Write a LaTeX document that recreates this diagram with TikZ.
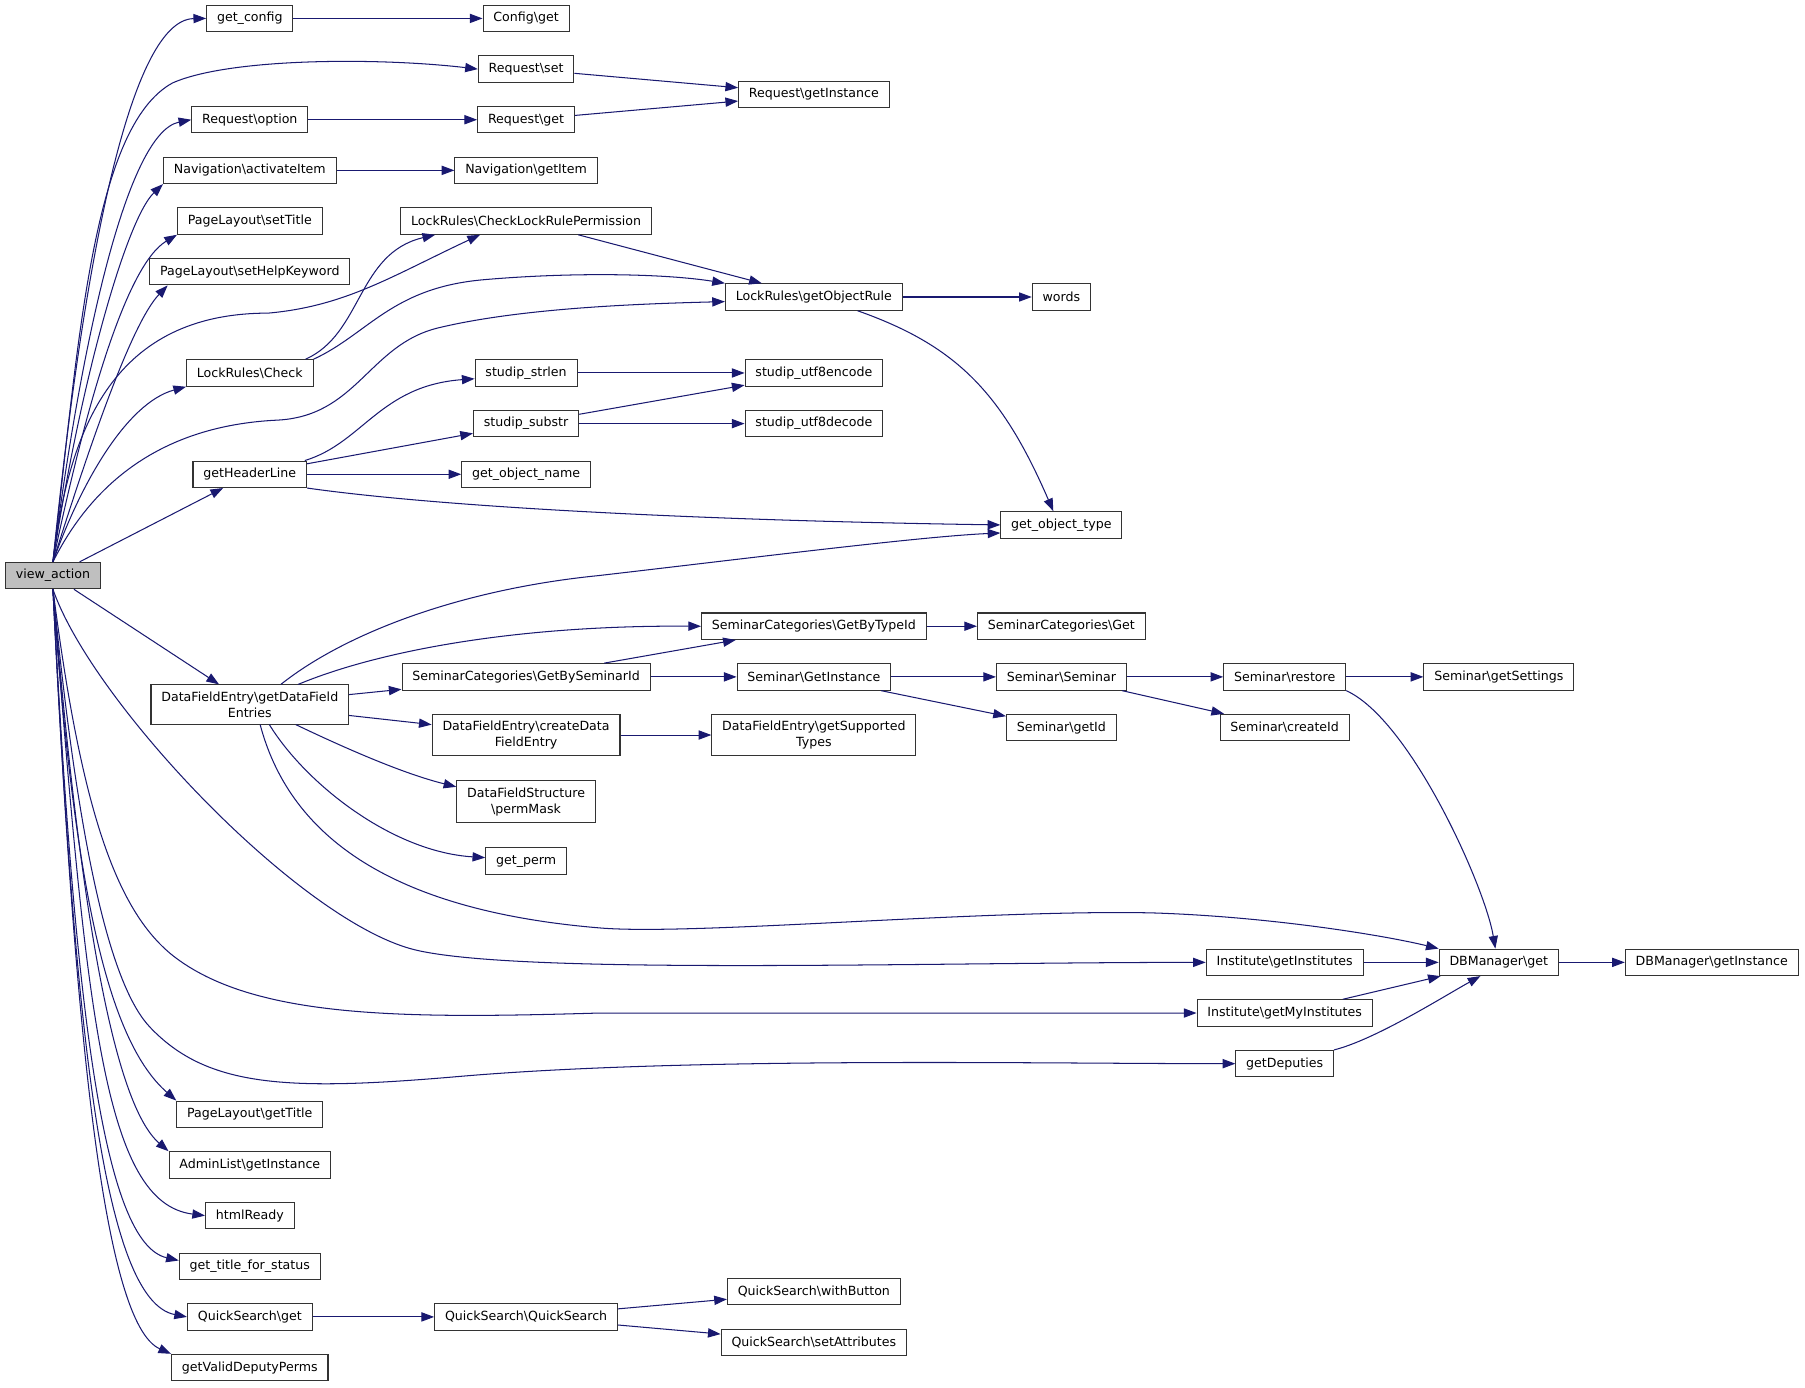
\documentclass[tikz,border=0pt]{standalone}
\usepackage{fontspec}
\setmainfont{DejaVu Sans}
\usetikzlibrary{arrows.meta}
\definecolor{edgeblue}{RGB}{25,25,112}
\newcommand{\bsl}{\textbackslash}

\begin{document}
\begin{tikzpicture}[x=1pt, y=-1pt, font=\fontsize{10.95pt}{13.6pt}\selectfont]
		% 样式
		\tikzstyle{func} = [rectangle, draw=black!80, line width=0.9pt, fill=white, minimum height=23pt, inner xsep=9pt, inner ysep=6pt, align=center]
		\tikzstyle{root} = [func, fill=black!25]
		\tikzstyle{arrow} = [draw=edgeblue, line width=0.9pt, ->, >={Triangle[length=11pt,width=8pt]}]
		\useasboundingbox (0,0) rectangle (1568,1205);
		
		% 函数节点
		\node [root] (viewaction) at (46,500) {view\_action};
		\node [func] (getconfig) at (217,16) {get\_config};
		\node [func] (configget) at (457,16) {Config\bsl get};
		\node [func] (reqset) at (457,60) {Request\bsl set};
		\node [func] (reqgetinst) at (707,82) {Request\bsl getInstance};
		\node [func] (reqoption) at (217,104) {Request\bsl option};
		\node [func] (reqget) at (457,104) {Request\bsl get};
		\node [func] (navact) at (217,148) {Navigation\bsl activateItem};
		\node [func] (navgetitem) at (457,148) {Navigation\bsl getItem};
		\node [func] (settitle) at (217,192) {PageLayout\bsl setTitle};
		\node [func] (sethelp) at (217,236) {PageLayout\bsl setHelpKeyword};
		\node [func] (checkperm) at (457,192) {LockRules\bsl CheckLockRulePermission};
		\node [func] (getobjrule) at (707,258) {LockRules\bsl getObjectRule};
		\node [func] (words) at (922,258) {words};
		\node [func] (lockcheck) at (217,324) {LockRules\bsl Check};
		\node [func] (strlen) at (457,324) {studip\_strlen};
		\node [func] (utfencode) at (707,324) {studip\_utf8encode};
		\node [func] (substr) at (457,368) {studip\_substr};
		\node [func] (utfdecode) at (707,368) {studip\_utf8decode};
		\node [func] (headerline) at (217,412) {getHeaderLine};
		\node [func] (objname) at (457,412) {get\_object\_name};
		\node [func] (objtype) at (922,456) {get\_object\_type};
		\node [func] (bytypeid) at (707,544) {SeminarCategories\bsl GetByTypeId};
		\node [func] (semcatget) at (922,544) {SeminarCategories\bsl Get};
		\node [func] (dfentries) at (217,612) {DataFieldEntry\bsl getDataField\\Entries};
		\node [func] (byseminar) at (457,588) {SeminarCategories\bsl GetBySeminarId};
		\node [func] (seminstance) at (707,588) {Seminar\bsl GetInstance};
		\node [func] (seminar) at (922,588) {Seminar\bsl Seminar};
		\node [func] (restore) at (1116,588) {Seminar\bsl restore};
		\node [func] (settings) at (1302,588) {Seminar\bsl getSettings};
		\node [func] (semgetid) at (922,632) {Seminar\bsl getId};
		\node [func] (createid) at (1116,632) {Seminar\bsl createId};
		\node [func] (createentry) at (457,638.5) {DataFieldEntry\bsl createData\\FieldEntry};
		\node [func] (supported) at (707,638.5) {DataFieldEntry\bsl getSupported\\Types};
		\node [func] (permmask) at (457,696.5) {DataFieldStructure\\\bsl permMask};
		\node [func] (getperm) at (457,748) {get\_perm};
		\node [func] (institutes) at (1116,836) {Institute\bsl getInstitutes};
		\node [func] (dbget) at (1302,836) {DBManager\bsl get};
		\node [func] (dbinstance) at (1487,836) {DBManager\bsl getInstance};
		\node [func] (myinst) at (1116,880) {Institute\bsl getMyInstitutes};
		\node [func] (deputies) at (1116,924) {getDeputies};
		\node [func] (gettitle) at (217,968) {PageLayout\bsl getTitle};
		\node [func] (adminlist) at (217,1012) {AdminList\bsl getInstance};
		\node [func] (htmlready) at (217,1056) {htmlReady};
		\node [func] (titlestatus) at (217,1100) {get\_title\_for\_status};
		\node [func] (qsget) at (217,1144) {QuickSearch\bsl get};
		\node [func] (quicksearch) at (457,1144) {QuickSearch\bsl QuickSearch};
		\node [func] (withbutton) at (707,1122) {QuickSearch\bsl withButton};
		\node [func] (setattr) at (707,1166) {QuickSearch\bsl setAttributes};
		\node [func] (validperms) at (217,1188) {getValidDeputyPerms};
		
		% view_action 的调用
		\draw [arrow] (viewaction.north) .. controls (70,250) and (110,17) .. (getconfig.west);
		\draw [arrow] (viewaction.north) .. controls (68,300) and (80,110) .. (150,72) .. controls (200,50) and (330,50) .. (reqset.west);
		\draw [arrow] (viewaction.north) .. controls (70,300) and (110,115) .. (reqoption.west);
		\draw [arrow] (viewaction.north) .. controls (70,330) and (110,190) .. (navact.south west);
		\draw [arrow] (viewaction.north) .. controls (75,350) and (110,230) .. (settitle.south west);
		\draw [arrow] (viewaction.north) .. controls (80,380) and (115,280) .. ([xshift=16pt]sethelp.south west);
		\draw [arrow] (viewaction.north) .. controls (60,370) and (100,272) .. (233,272) .. controls (300,266) and (340,240) .. ([xshift=-40pt]checkperm.south);
		\draw [arrow] (viewaction.north) .. controls (70,420) and (110,350) .. (lockcheck.south west);
		\draw [arrow] (viewaction.north) .. controls (80,420) and (140,370) .. (240,365) .. controls (310,362) and (320,300) .. (380,285) .. controls (450,268) and (550,264) .. ([yshift=-4pt]getobjrule.west);
		\draw [arrow] (viewaction) -- (headerline);
		\draw [arrow] (viewaction) -- (dfentries);
		\draw [arrow] (viewaction.south) .. controls (80,610) and (260,800) .. (360,825) .. controls (450,847) and (800,836) .. (institutes.west);
		\draw [arrow] (viewaction.south) .. controls (70,700) and (100,790) .. (150,830) .. controls (220,885) and (350,885) .. (521,880) -- (myinst.west);
		\draw [arrow] (viewaction.south) .. controls (70,760) and (100,860) .. (130,892) .. controls (180,945) and (250,948) .. (400,935) .. controls (600,918) and (900,924) .. (deputies.west);
		\draw [arrow] (viewaction.south) .. controls (65,780) and (95,905) .. (gettitle.north west);
		\draw [arrow] (viewaction.south) .. controls (70,800) and (100,960) .. (adminlist.north west);
		\draw [arrow] (viewaction.south) .. controls (75,880) and (90,1045) .. (htmlready.west);
		\draw [arrow] (viewaction.south) .. controls (65,880) and (90,1080) .. ([yshift=5pt]titlestatus.west);
		\draw [arrow] (viewaction.south) .. controls (65,900) and (90,1130) .. (qsget.west);
		\draw [arrow] (viewaction.south) .. controls (65,900) and (90,1150) .. (validperms.north west);
		
		% 其余调用
		\draw [arrow] (getconfig) -- (configget);
		\draw [arrow] (reqset) -- (reqgetinst);
		\draw [arrow] (reqoption) -- (reqget);
		\draw [arrow] (reqget) -- (reqgetinst);
		\draw [arrow] (navact) -- (navgetitem);
		\draw [arrow] ([xshift=-7pt]lockcheck.north east) .. controls (315,290) and (310,220) .. ([xshift=-79pt]checkperm.south);
		\draw [arrow] (lockcheck.north east) .. controls (320,290) and (340,250) .. (420,243) .. controls (500,236) and (580,238) .. (getobjrule.north west);
		\draw [arrow] (checkperm) -- (getobjrule);
		\draw [arrow] (getobjrule) -- (words);
		\draw [arrow] ([xshift=38pt]getobjrule.south) .. controls (830,300) and (870,340) .. ([xshift=-7pt]objtype.north);
		\draw [arrow] ([xshift=-2pt]headerline.north east) .. controls (315,385) and (330,335) .. ([yshift=-5pt]strlen.west);
		\draw [arrow] (headerline) -- (substr);
		\draw [arrow] (headerline) -- (objname);
		\draw [arrow] (headerline.south east) .. controls (380,440) and (600,452) .. (objtype.west);
		\draw [arrow] (strlen) -- (utfencode);
		\draw [arrow] (substr) -- (utfencode);
		\draw [arrow] (substr) -- (utfdecode);
		\draw [arrow] ([xshift=27pt]dfentries.north) .. controls (300,550) and (400,512) .. (520,500) .. controls (650,485) and (800,466) .. ([yshift=-7pt]objtype.west);
		\draw [arrow] ([xshift=42pt]dfentries.north) .. controls (330,565) and (450,543) .. (bytypeid.west);
		\draw [arrow] (dfentries) -- (byseminar);
		\draw [arrow] (dfentries) -- (createentry);
		\draw [arrow] ([xshift=40pt]dfentries.south) .. controls (300,650) and (350,672) .. ([yshift=13pt]permmask.west);
		\draw [arrow] ([xshift=17pt]dfentries.south) .. controls (265,680) and (340,740) .. ([yshift=3pt]getperm.west);
		\draw [arrow] ([xshift=9pt]dfentries.south) .. controls (250,720) and (330,790) .. (520,806) .. controls (600,813) and (850,790) .. (1000,793) .. controls (1100,796) and (1200,812) .. (dbget.north west);
		\draw [arrow] (byseminar) -- (bytypeid);
		\draw [arrow] (byseminar) -- (seminstance);
		\draw [arrow] (bytypeid) -- (semcatget);
		\draw [arrow] (seminstance) -- (seminar);
		\draw [arrow] (seminstance) -- (semgetid);
		\draw [arrow] (seminar) -- (restore);
		\draw [arrow] (seminar) -- (createid);
		\draw [arrow] (restore) -- (settings);
		\draw [arrow] (restore.south east) .. controls (1225,625) and (1290,770) .. ([xshift=-3pt]dbget.north);
		\draw [arrow] (createentry) -- (supported);
		\draw [arrow] (institutes) -- (dbget);
		\draw [arrow] (myinst) -- (dbget);
		\draw [arrow] (deputies.north east) .. controls (1195,903) and (1255,865) .. ([xshift=-16pt]dbget.south);
		\draw [arrow] (dbget) -- (dbinstance);
		\draw [arrow] (qsget) -- (quicksearch);
		\draw [arrow] (quicksearch) -- (withbutton);
		\draw [arrow] (quicksearch) -- (setattr);
\end{tikzpicture}
\end{document}
